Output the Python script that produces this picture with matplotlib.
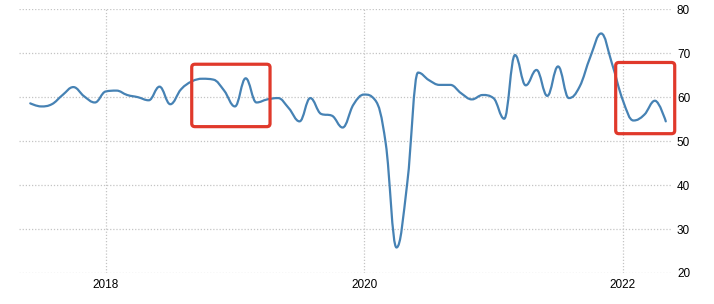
import matplotlib
matplotlib.use("Agg")
import matplotlib.pyplot as plt
from matplotlib.path import Path
from matplotlib.patches import PathPatch, FancyBboxPatch
import numpy as np

# monthly readings, June 2017 .. May 2022
first_year, first_month = 2017, 6
values = [58.6, 57.9, 58.4, 60.5, 62.3, 60.2, 58.8,
          61.3, 61.5, 60.5, 60.0, 59.3, 62.4, 58.4, 61.8, 63.6, 64.2, 64.0, 61.5,
          57.9, 64.3, 58.8, 59.5, 59.8, 57.5, 54.5, 59.8, 56.2, 55.8, 53.1, 58.3,
          60.6, 59.4, 49.5, 25.8, 40.5, 65.6, 63.9, 62.8, 62.8, 60.9, 59.5, 60.5,
          59.8, 55.1, 69.6, 62.7, 66.2, 60.3, 67.0, 59.8, 62.4, 69.2, 74.5, 67.7,
          59.4, 54.7, 56.0, 59.2, 54.5]
tick_years = [2018, 2020, 2022]
y_ticks = [20, 30, 40, 50, 60, 70, 80]

# highlighted regions: (x0, x1, y0, y1), x in months since Jan 2018
highlights = [(7.99, 15.26, 53.3, 67.5), (47.35, 52.83, 51.7, 67.9)]

BLUE = "#4682b4"
RED = "#e0392b"
GRID = "#c4c4c4"

plt.rcParams["font.family"] = ["Liberation Sans", "DejaVu Sans"]


def month_index(year, month):
    """Months since January 2018"""
    return (year - 2018) * 12 + (month - 1)


def spline_path(x, y, smoothing=1.5):
    """Smooth curve through the points, control points kept from overshooting"""
    n = len(x)
    denom = smoothing + 1
    left = [(x[0], y[0])] * n
    right = [(x[-1], y[-1])] * n
    right[0] = (x[0], y[0])
    for i in range(1, n - 1):
        lx, ly, px, py, nx, ny = x[i - 1], y[i - 1], x[i], y[i], x[i + 1], y[i + 1]
        lcx = (smoothing * px + lx) / denom
        lcy = (smoothing * py + ly) / denom
        rcx = (smoothing * px + nx) / denom
        rcy = (smoothing * py + ny) / denom
        corr = (rcy - lcy) * (rcx - px) / (rcx - lcx) + py - rcy
        lcy += corr
        rcy += corr
        if lcy > ly and lcy > py:
            lcy = max(ly, py)
            rcy = 2 * py - lcy
        elif lcy < ly and lcy < py:
            lcy = min(ly, py)
            rcy = 2 * py - lcy
        if rcy > ny and rcy > py:
            rcy = max(ny, py)
            lcy = 2 * py - rcy
        elif rcy < ny and rcy < py:
            rcy = min(ny, py)
            lcy = 2 * py - rcy
        left[i] = (lcx, lcy)
        right[i] = (rcx, rcy)
    left[-1] = (x[-1], y[-1])
    verts = [(x[0], y[0])]
    codes = [Path.MOVETO]
    for i in range(1, n):
        verts += [right[i - 1], left[i], (x[i], y[i])]
        codes += [Path.CURVE4] * 3
    return Path(verts, codes)


start = month_index(first_year, first_month)
x = np.arange(start, start + len(values), dtype=float)
y = np.array(values)

fig = plt.figure(figsize=(7.14, 3.04), dpi=100)
ax = fig.add_axes([0.027, 0.102, 0.9124, 0.8674])

ax.add_patch(PathPatch(spline_path(x, y), facecolor="none", edgecolor=BLUE,
                       lw=1.6, capstyle="round", joinstyle="round", zorder=3))

for x0, x1, y0, y1 in highlights:
    box = FancyBboxPatch((x0, y0), x1 - x0, y1 - y0,
                         boxstyle="round,pad=0,rounding_size=0.3",
                         mutation_aspect=2.4, facecolor="none", edgecolor=RED,
                         lw=2.3, clip_on=False, zorder=4)
    ax.add_patch(box)

ax.set_xlim(-8.02, 52.46)
ax.set_ylim(20, 80)
ax.set_xticks([month_index(yr, 1) for yr in tick_years])
ax.set_xticklabels([str(yr) for yr in tick_years])
ax.set_yticks(y_ticks)
ax.yaxis.tick_right()
ax.tick_params(axis="both", length=0, labelsize=8.5, labelcolor="black")
ax.tick_params(axis="y", pad=4.5)
ax.tick_params(axis="x", pad=4)
ax.grid(True, color=GRID, linestyle=(0, (1, 1.5)), linewidth=0.9)
ax.set_axisbelow(True)
for s in ax.spines.values():
    s.set_visible(False)

fig.savefig("out.png", dpi=100)
